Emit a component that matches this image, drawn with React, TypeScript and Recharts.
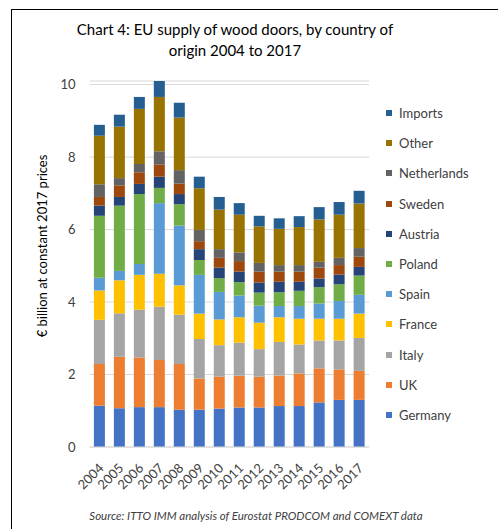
import React from 'react';
import { BarChart, Bar, XAxis, YAxis, CartesianGrid } from 'recharts';

const years = ['2004','2005','2006','2007','2008','2009','2010','2011','2012','2013','2014','2015','2016','2017'];
const germany = [1.14,1.07,1.10,1.10,1.03,1.03,1.06,1.09,1.09,1.13,1.13,1.23,1.30,1.30];
const uk = [1.15,1.42,1.37,1.30,1.26,0.86,0.88,0.88,0.85,0.84,0.90,0.94,0.84,0.80];
const italy = [1.22,1.20,1.32,1.47,1.36,1.09,0.87,0.91,0.76,0.93,0.80,0.77,0.80,0.91];
const france = [0.81,0.91,0.96,0.91,0.81,0.70,0.71,0.70,0.73,0.68,0.71,0.60,0.60,0.67];
const spain = [0.35,0.26,0.30,1.95,1.65,1.07,0.76,0.60,0.47,0.31,0.35,0.42,0.49,0.52];
const poland = [1.71,1.80,1.93,0.42,0.59,0.41,0.38,0.37,0.36,0.38,0.42,0.45,0.46,0.53];
const austria = [0.28,0.24,0.28,0.31,0.28,0.30,0.29,0.29,0.28,0.29,0.25,0.24,0.27,0.24];
const sweden = [0.24,0.32,0.32,0.33,0.29,0.22,0.27,0.29,0.30,0.28,0.28,0.30,0.26,0.28];
const netherlands = [0.35,0.20,0.23,0.37,0.37,0.31,0.24,0.24,0.24,0.18,0.18,0.16,0.20,0.24];
const other = [1.34,1.42,1.52,1.50,1.45,1.15,1.09,1.04,1.01,1.00,1.05,1.17,1.19,1.23];
const imports = [0.30,0.33,0.33,0.44,0.41,0.32,0.35,0.32,0.29,0.29,0.30,0.34,0.35,0.35];
const yTicks = [0, 2, 4, 6, 8, 10];

const seriesNames = ['Germany','UK','Italy','France','Spain','Poland','Austria','Sweden','Netherlands','Other','Imports'];
const seriesValues = [germany, uk, italy, france, spain, poland, austria, sweden, netherlands, other, imports];
const seriesColors = ['#4472C4','#ED7D31','#A5A5A5','#FFC000','#5B9BD5','#70AD47','#264478','#9E480E','#636363','#997300','#255E91'];

const data = years.map((y, i) => {
  const row: Record<string, string | number> = { year: y };
  seriesNames.forEach((n, k) => { row[n] = seriesValues[k][i]; });
  return row;
});

const FONT = 'Lato, "Open Sans", sans-serif';

const XTick = (props: any) => {
  const { x, y, payload } = props;
  const ax = x + 5;
  const ay = y + 14;
  return (
    <text x={ax} y={ay} transform={`rotate(-45, ${ax}, ${ay})`} textAnchor="end" fontSize={13} fill="#404040" fontFamily={FONT}>
      {payload.value}
    </text>
  );
};

export default function App() {
  const legendItems = seriesNames.map((n, k) => ({ name: n, color: seriesColors[k] })).reverse();
  return (
    <div style={{ position: 'absolute', left: 0, top: 0, width: 498, height: 529, background: '#fff', overflow: 'hidden' }}>
      <div style={{ position: 'absolute', left: 11, top: 9, width: 487, height: 520, borderLeft: '1px solid #000', borderTop: '1px solid #000', boxSizing: 'border-box' }} />
      <div style={{ position: 'absolute', left: 60, top: 19, width: 350, textAlign: 'center', fontFamily: FONT, fontSize: 15, lineHeight: '21px', color: '#000' }}>
        Chart 4: EU supply of wood doors, by country of<br />origin 2004 to 2017
      </div>
      <div style={{ position: 'absolute', left: 42, top: 246, transform: 'translate(-50%, -50%) rotate(-90deg)', whiteSpace: 'nowrap', fontFamily: FONT, fontSize: 13, color: '#000' }}>
        € billion at constant 2017 prices
      </div>
      <div style={{ position: 'absolute', left: 0, width: 512, top: 509, textAlign: 'center', fontFamily: FONT, fontSize: 11.5, fontStyle: 'italic', color: '#404040' }}>
        Source: ITTO IMM analysis of Eurostat PRODCOM and COMEXT data
      </div>
      <div style={{ position: 'absolute', left: 386, top: 98, fontFamily: FONT, fontSize: 13, color: '#404040' }}>
        {legendItems.map((it) => (
          <div key={it.name} style={{ display: 'flex', alignItems: 'center', height: 30.2 }}>
            <span style={{ display: 'inline-block', width: 6, height: 6, background: it.color, marginRight: 7 }} />
            <span>{it.name}</span>
          </div>
        ))}
      </div>
      <div style={{ position: 'absolute', left: 0, top: 0 }}>
        <BarChart width={498} height={529} data={data} margin={{ top: 81, right: 128.8, bottom: 0, left: 29.5 }} barCategoryGap="22%">
          <CartesianGrid vertical={false} stroke="#D9D9D9" />
          <XAxis dataKey="year" interval={0} tickLine={false} axisLine={{ stroke: '#D9D9D9' }} tick={<XTick />} height={82} />
          <YAxis domain={[0, 10]} ticks={yTicks} width={60} axisLine={false} tickLine={false} tickSize={0} tickMargin={14} tick={{ fontSize: 13, fill: '#404040', fontFamily: FONT }} />
          {seriesNames.map((n, k) => (
            <Bar key={n} dataKey={n} stackId="a" fill={seriesColors[k]} isAnimationActive={false} />
          ))}
        </BarChart>
      </div>
    </div>
  );
}
